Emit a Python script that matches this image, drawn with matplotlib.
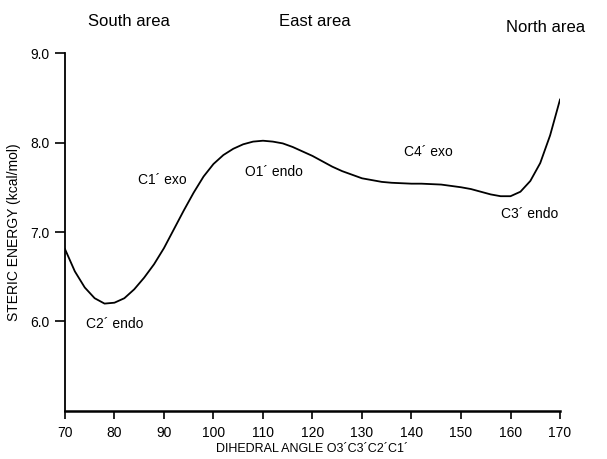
import matplotlib
matplotlib.use("Agg")
import matplotlib.pyplot as plt

# Data
angle = [70, 72, 74, 76, 78, 80, 82, 84, 86, 88, 90, 92, 94, 96, 98, 100,
         102, 104, 106, 108, 110, 112, 114, 116, 118, 120, 122, 124, 126, 128,
         130, 132, 134, 136, 138, 140, 142, 144, 146, 148, 150, 152, 154, 156,
         158, 160, 162, 164, 166, 168, 170]
energy = [6.81, 6.56, 6.38, 6.26, 6.20, 6.21, 6.26, 6.36, 6.49, 6.64, 6.82,
          7.03, 7.24, 7.44, 7.62, 7.76, 7.86, 7.93, 7.98, 8.01, 8.02, 8.01,
          7.99, 7.95, 7.90, 7.85, 7.79, 7.73, 7.68, 7.64, 7.60, 7.58, 7.56,
          7.55, 7.545, 7.54, 7.54, 7.535, 7.53, 7.515, 7.50, 7.48, 7.45, 7.42,
          7.40, 7.40, 7.45, 7.57, 7.77, 8.08, 8.48]

conf_labels = ["C2\u00b4 endo", "C1\u00b4 exo", "O1\u00b4 endo", "C4\u00b4 exo", "C3\u00b4 endo"]
conf_x = [80.1, 89.6, 112.2, 143.5, 158.0]
conf_y = [5.97, 7.58, 7.67, 7.89, 7.20]

area_labels = ["South area", "East area", "North area"]
area_x = [83.0, 120.5, 167.0]
area_y = [9.35, 9.35, 9.28]

xticks = [70, 80, 90, 100, 110, 120, 130, 140, 150, 160, 170]
yticks = [6.0, 7.0, 8.0, 9.0]
ytick_labels = ["6.0", "7.0", "8.0", "9.0"]

plt.rcParams['font.family'] = ['Liberation Sans', 'DejaVu Sans']

fig = plt.figure(figsize=(6.07, 4.59), dpi=100)
ax = fig.add_axes([0.107, 0.1046, 0.8156, 0.7799])

ax.plot(angle, energy, color='black', lw=1.3)

ax.set_xlim(70, 170)
ax.set_ylim(5.0, 9.0)
ax.set_xticks(xticks)
ax.set_xticklabels([str(t) for t in xticks], fontsize=10)
ax.set_yticks(yticks)
ax.set_yticklabels(ytick_labels, fontsize=10)

for s in ['top', 'right']:
    ax.spines[s].set_visible(False)
ax.spines['left'].set_linewidth(1.3)
ax.spines['bottom'].set_linewidth(1.8)
ax.tick_params(axis='x', direction='out', length=6, width=1.2, pad=5)
ax.tick_params(axis='y', direction='out', length=7, width=1.2, pad=4)

ax.set_xlabel("DIHEDRAL ANGLE O3\u00b4C3\u00b4C2\u00b4C1\u00b4", fontsize=9, labelpad=2)
ax.set_ylabel("STERIC ENERGY (kcal/mol)", fontsize=10, labelpad=7)

for lab, x, y in zip(conf_labels, conf_x, conf_y):
    ha = 'left' if lab.startswith("C3") else 'center'
    ax.text(x, y, lab, fontsize=10, ha=ha, va='center')

for lab, x, y in zip(area_labels, area_x, area_y):
    ax.text(x, y, lab, fontsize=12, ha='center', va='center', clip_on=False)

fig.savefig("out.png", dpi=100)
